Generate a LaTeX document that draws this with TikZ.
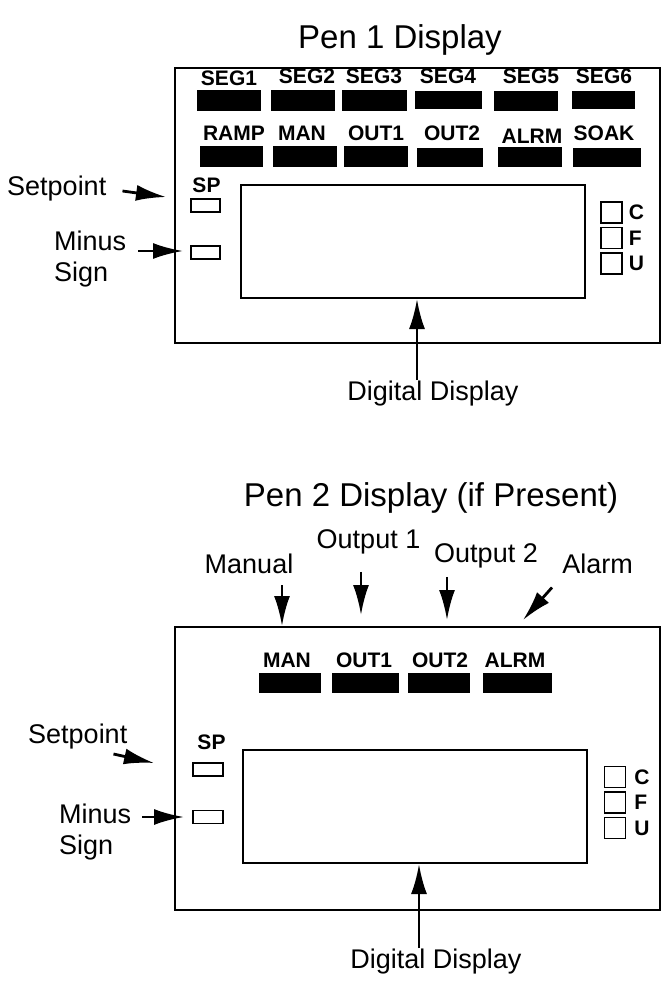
\documentclass[tikz,border=0pt]{standalone}
\usepackage{fontspec}
\setmainfont{Liberation Sans}
\usepackage{tikz}
\usetikzlibrary{positioning}
\usetikzlibrary{arrows.meta}

\tikzset{
  heading/.style={font=\fontsize{33}{39}\selectfont, inner sep=0pt},
  callout/.style={font=\fontsize{27}{31}\selectfont, inner sep=0pt},
  tag/.style={font=\bfseries\fontsize{21}{25}\selectfont, inner sep=0pt},
  panel/.style={draw, line width=2pt, inner sep=0pt},
  bar/.style={fill=black, inner sep=0pt},
  lamp/.style={draw, line width=1.8pt, inner sep=0pt, minimum height=13pt},
  unitbox/.style={draw, line width=1.5pt, inner sep=0pt},
  pointer/.style={-{Latex[length=30pt,width=16pt]}, line width=2.8pt},
}

\begin{document}
\begin{tikzpicture}[x=1pt,y=-1pt]
\useasboundingbox (0,0) rectangle (662,983);

% pen 1
\node[heading, anchor=base] (title1) at (400,48) {Pen 1 Display};
\node[panel, minimum width=485pt, minimum height=275pt] (pen1) at (417.5,205.5) {};
\foreach \txt/\lx/\ly/\bx/\by/\bw/\bh [count=\i] in {SEG1/229/85/229/100/64/21, SEG2/307/83/303/100/64/21, SEG3/374/83/374.5/100/65/21, SEG4/448/83/448.5/99.5/67/18, SEG5/531/83/526/100.5/64/20, SEG6/604/83/603.5/99.5/63/18}
{
  \node[tag, anchor=base] (top\i) at (\lx,\ly) {\txt};
  \node[bar, minimum width=\bw pt, minimum height=\bh pt] (topbar\i) at (\bx,\by) {};
}
\foreach \txt/\lx/\ly/\bx/\by/\bw/\bh [count=\i] in {RAMP/234/140/231.5/156.5/63/21, MAN/302/140/305/156.5/64/21, OUT1/376/140/376/156.5/64/21, OUT2/452/140/450/157.5/66/19, ALRM/532/143/530/157/64/20, SOAK/604/140/607/157.5/68/19}
{
  \node[tag, anchor=base] (mid\i) at (\lx,\ly) {\txt};
  \node[bar, minimum width=\bw pt, minimum height=\bh pt] (midbar\i) at (\bx,\by) {};
}
\node[tag, anchor=base] (sp1) at (206.5,192) {SP};
\node[lamp, minimum width=29pt] (splamp1) at (205.5,205.5) {};
\node[lamp, minimum width=29pt] (minlamp1) at (205.5,252.5) {};
\node[panel, minimum width=344pt, minimum height=113pt] (disp1) at (413,241.5) {};
\node[unitbox, minimum size=21pt] (cbox1) at (611.5,212.5) {};
\node[unitbox, minimum size=21pt, below=3pt of cbox1] (fbox1) {};
\node[unitbox, minimum size=21pt, below=3pt of fbox1] (ubox1) {};
\node[tag, right=6pt of cbox1] (clbl1) {C};
\node[tag, right=6pt of fbox1] (flbl1) {F};
\node[tag, right=6pt of ubox1] (ulbl1) {U};

\node[callout, anchor=base west] (setlbl1) at (7,195) {Setpoint};
\node[callout, anchor=base west] (minus1) at (54,250) {Minus};
\node[callout, anchor=base west] (sign1) at (54,281) {Sign};
\node[callout, anchor=base] (dd1) at (433,400) {Digital Display};
\coordinate (settip1) at (166,197);
\coordinate (mintip1) at (183,251);
\draw[pointer] ([xshift=16pt,yshift=4pt]setlbl1.base east) -- (settip1);
\draw[pointer] ([xshift=12pt,yshift=-1pt]minus1.base east) -- (mintip1);
\draw[pointer] ([xshift=-16pt]dd1.north) -- ([xshift=-16pt]dd1.north |- disp1.south);

% pen 2
\node[heading, anchor=base] (title2) at (431,506) {Pen 2 Display (if Present)};
\node[panel, minimum width=485pt, minimum height=283pt] (pen2) at (417.5,768.5) {};
\foreach \txt/\lx/\bx/\bw [count=\i] in {MAN/287/290/62, OUT1/364/365.5/67, OUT2/440/439/62, ALRM/515/517.5/69}
{
  \node[tag, anchor=base] (low\i) at (\lx,667) {\txt};
  \node[bar, minimum width=\bw pt, minimum height=20pt] (lowbar\i) at (\bx,683) {};
}
\node[tag, anchor=base] (sp2) at (211.5,749) {SP};
\node[lamp, minimum width=30pt] (splamp2) at (208,769.5) {};
\node[lamp, minimum width=30pt] (minlamp2) at (208,817) {};
\node[panel, minimum width=344pt, minimum height=113pt] (disp2) at (415,806.5) {};
\node[unitbox, minimum size=21pt] (cbox2) at (615,777) {};
\node[unitbox, minimum size=21pt, below=3pt of cbox2] (fbox2) {};
\node[unitbox, minimum size=21pt, below=3pt of fbox2] (ubox2) {};
\node[tag, right=8pt of cbox2] (clbl2) {C};
\node[tag, right=8pt of fbox2] (flbl2) {F};
\node[tag, right=8pt of ubox2] (ulbl2) {U};

\node[callout, anchor=base] (manual) at (249,573) {Manual};
\node[callout, anchor=base] (outlbl1) at (368.5,548) {Output 1};
\node[callout, anchor=base] (outlbl2) at (486,562) {Output 2};
\node[callout, anchor=base] (alarm) at (597.5,573) {Alarm};
\coordinate (outtip1) at (361,615);
\coordinate (outtip2) at (447,620);
\coordinate (alarmtip) at (523,620);
\draw[pointer] ([xshift=33pt,yshift=-12pt]manual.south) -- ([xshift=33pt]manual.south |- pen2.north);
\draw[pointer] ([xshift=-7.5pt,yshift=-18pt]outlbl1.south) -- (outtip1);
\draw[pointer] ([xshift=-39pt,yshift=-9pt]outlbl2.south) -- (outtip2);
\draw[pointer] ([xshift=-45.5pt,yshift=-14pt]alarm.south) -- (alarmtip);

\node[callout, anchor=base west] (setlbl2) at (28,743) {Setpoint};
\node[callout, anchor=base west] (minus2) at (59,823) {Minus};
\node[callout, anchor=base west] (sign2) at (59,854) {Sign};
\node[callout, anchor=base] (dd2) at (436,968) {Digital Display};
\coordinate (settip2) at (154,763);
\coordinate (mintip2) at (184,817);
\draw[pointer] ([xshift=-14pt,yshift=-11pt]setlbl2.base east) -- (settip2);
\draw[pointer] ([xshift=11pt,yshift=6pt]minus2.base east) -- (mintip2);
\draw[pointer] ([xshift=-17pt]dd2.north) -- ([xshift=-17pt]dd2.north |- disp2.south);
\end{tikzpicture}
\end{document}
